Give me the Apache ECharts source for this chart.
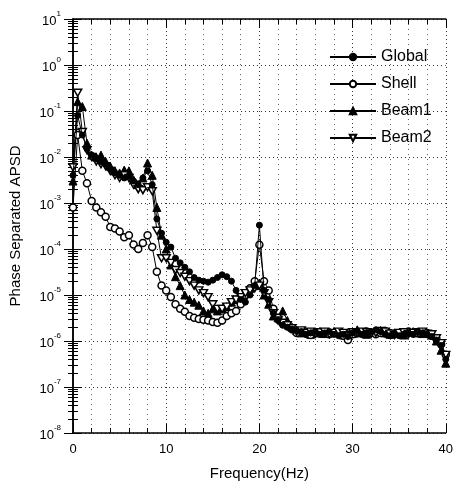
<!DOCTYPE html>
<html>
<head>
<meta charset="utf-8">
<script src="https://cdn.jsdelivr.net/npm/echarts@6/dist/echarts.min.js"></script>
<style>
  html, body { margin: 0; padding: 0; background: #fff; }
  #chart { width: 456px; height: 487px; }
</style>
</head>
<body>
<div id="chart"></div>
<script>
// frequency grid (Hz)
var freq = [0,0.5,1,1.5,2,2.5,3,3.5,4,4.5,5,5.5,6,6.5,7,7.5,8,8.5,9,9.5,
  10,10.5,11,11.5,12,12.5,13,13.5,14,14.5,15,15.5,16,16.5,17,17.5,18,18.5,19,19.5,
  20,20.5,21,21.5,22,22.5,23,23.5,24,24.5,25,25.5,26,26.5,27,27.5,28,28.5,29,29.5,
  30,30.5,31,31.5,32,32.5,33,33.5,34,34.5,35,35.5,36,36.5,37,37.5,38,38.5,39,39.5,40];

var globalApsd = [4e-3,8e-2,3e-2,1.5e-2,1.1e-2,9e-3,8e-3,7e-3,5.5e-3,4.5e-3,4e-3,3.5e-3,3.8e-3,3e-3,2.5e-3,3.5e-3,5e-3,2.5e-3,4.5e-4,2.2e-4,
  1.4e-4,1.1e-4,6.3e-5,5e-5,4e-5,3.2e-5,2.4e-5,2.1e-5,2e-5,1.9e-5,2.1e-5,2.4e-5,2.75e-5,2.5e-5,2e-5,1.26e-5,8e-6,7e-6,1e-5,1.6e-5,
  3.3e-4,1.26e-5,8e-6,4e-6,2.8e-6,2.2e-6,2e-6,1.8e-6,1.65e-6,1.6e-6,1.4e-6,1.5e-6,1.6e-6,1.4e-6,1.5e-6,1.6e-6,1.4e-6,1.3e-6,1.4e-6,1.25e-6,
  1.5e-6,1.65e-6,1.4e-6,1.5e-6,1.6e-6,1.75e-6,1.6e-6,1.4e-6,1.3e-6,1.4e-6,1.3e-6,1.4e-6,1.5e-6,1.4e-6,1.6e-6,1.5e-6,1.4e-6,1.25e-6,1.05e-6,8e-7,4e-7];

var shellApsd = [8e-4,3e-2,5e-3,2.7e-3,1.1e-3,8e-4,6.3e-4,5e-4,3e-4,2.8e-4,2.4e-4,1.8e-4,2e-4,1.26e-4,1e-4,1.35e-4,2e-4,1.1e-4,3.2e-5,1.6e-5,
  1.26e-5,9e-6,6.3e-6,5e-6,4.3e-6,3.5e-6,3.2e-6,3e-6,2.9e-6,2.8e-6,2.6e-6,2.5e-6,2.8e-6,3.5e-6,4e-6,4.5e-6,6.3e-6,1e-5,1.4e-5,2e-5,
  1.23e-4,2e-5,1.26e-5,5e-6,3.2e-6,2.4e-6,2.1e-6,1.8e-6,1.5e-6,1.6e-6,1.45e-6,1.35e-6,1.5e-6,1.45e-6,1.55e-6,1.4e-6,1.5e-6,1.45e-6,1.3e-6,1.05e-6,
  1.4e-6,1.5e-6,1.45e-6,1.6e-6,1.5e-6,1.4e-6,1.5e-6,1.65e-6,1.5e-6,1.4e-6,1.45e-6,1.5e-6,1.6e-6,1.45e-6,1.5e-6,1.55e-6,1.5e-6,1.3e-6,1.1e-6,8.5e-7,5e-7];

var beam1Apsd = [3e-3,1.6e-1,1.25e-1,2e-2,1.1e-2,1e-2,1.1e-2,8e-3,6.3e-3,5e-3,4.5e-3,5.2e-3,5e-3,3.2e-3,2.5e-3,3.5e-3,7.4e-3,4e-3,8e-4,2e-4,
  1e-4,4.5e-5,2.5e-5,1.6e-5,1e-5,8e-6,7e-6,6e-6,4.5e-6,4e-6,5e-6,4.5e-6,5e-6,5.6e-6,7e-6,8e-6,9e-6,1.1e-5,1.4e-5,1.6e-5,
  1.8e-5,1e-5,6.3e-6,3.5e-6,3.2e-6,4.5e-6,2.8e-6,2e-6,1.7e-6,1.5e-6,1.55e-6,1.4e-6,1.5e-6,1.6e-6,1.45e-6,1.5e-6,1.6e-6,1.5e-6,1.35e-6,1.4e-6,
  1.45e-6,1.75e-6,1.5e-6,1.4e-6,1.55e-6,1.6e-6,1.7e-6,1.5e-6,1.4e-6,1.5e-6,1.45e-6,1.35e-6,1.55e-6,1.6e-6,1.5e-6,1.45e-6,1.5e-6,1.35e-6,1e-6,6.3e-7,3.3e-7];

var beam2Apsd = [6e-3,2.5e-1,3.5e-2,1.4e-2,1e-2,8e-3,7e-3,6.3e-3,5e-3,4e-3,3.5e-3,4e-3,3.5e-3,2.5e-3,2e-3,1.9e-3,2.2e-3,1.8e-3,2.5e-4,6.3e-5,
  6.3e-5,5e-5,3.5e-5,3e-5,2.5e-5,2e-5,1.6e-5,1.26e-5,1.1e-5,9e-6,6.3e-6,5e-6,5e-6,5.6e-6,7e-6,8e-6,9e-6,1.1e-5,1.26e-5,1.4e-5,
  1.6e-5,1.1e-5,7e-6,4e-6,2.8e-6,2.5e-6,2.2e-6,1.9e-6,1.6e-6,1.7e-6,1.5e-6,1.6e-6,1.45e-6,1.55e-6,1.6e-6,1.4e-6,1.5e-6,1.6e-6,1.5e-6,1.3e-6,
  1.55e-6,1.5e-6,1.6e-6,1.55e-6,1.45e-6,1.5e-6,1.65e-6,1.6e-6,1.45e-6,1.35e-6,1.5e-6,1.55e-6,1.4e-6,1.5e-6,1.55e-6,1.6e-6,1.45e-6,1.4e-6,1.15e-6,9e-7,5e-7];

var xTicks = [0, 10, 20, 30, 40];

function pairs(ys) {
  return freq.map(function (f, i) { return [f, ys[i]]; });
}

var chart = echarts.init(document.getElementById('chart'));
var font = 'Arial, "Liberation Sans", sans-serif';
var dotted = { color: '#333', type: [1, 3], width: 1 };

var option = {
  animation: false,
  backgroundColor: '#fff',
  grid: { left: 73, right: 9, top: 19, bottom: 54 },
  legend: {
    orient: 'vertical',
    left: 324,
    top: 44,
    itemWidth: 46,
    itemHeight: 8,
    itemGap: 11,
    textStyle: { fontFamily: font, fontSize: 16, color: '#000' },
    data: ['Global', 'Shell', 'Beam1', 'Beam2']
  },
  xAxis: [{
    type: 'value',
    min: 0,
    max: 40,
    interval: 10,
    name: 'Frequency(Hz)',
    nameLocation: 'middle',
    nameGap: 33,
    nameTextStyle: { fontFamily: font, fontSize: 15, color: '#000' },
    axisLine: { lineStyle: { color: '#000', width: 1.5 } },
    axisTick: { inside: true, length: 9, lineStyle: { color: '#000' } },
    minorTick: { show: true, splitNumber: 5, length: 5, lineStyle: { color: '#000' } },
    axisLabel: { fontFamily: font, fontSize: 13, color: '#000', margin: 10,
      formatter: function (v) { return xTicks.indexOf(v) >= 0 ? String(v) : ''; } },
    splitLine: { show: true, lineStyle: dotted },
    minorSplitLine: { show: true, lineStyle: { color: '#666', type: [1, 4], width: 1 } }
  }, {
    type: 'value',
    position: 'top',
    min: 0,
    max: 40,
    interval: 10,
    axisLine: { lineStyle: { color: '#000', width: 1.5 } },
    axisTick: { inside: true, length: 9, lineStyle: { color: '#000' } },
    minorTick: { show: true, splitNumber: 5, length: 5, lineStyle: { color: '#000' } },
    axisLabel: { show: false },
    splitLine: { show: false }
  }],
  yAxis: [{
    type: 'log',
    logBase: 10,
    min: 1e-8,
    max: 10,
    splitNumber: 10,
    name: 'Phase Separated APSD',
    nameLocation: 'middle',
    nameGap: 50,
    nameTextStyle: { fontFamily: font, fontSize: 15, color: '#000' },
    axisLine: { lineStyle: { color: '#000', width: 1.5 } },
    axisTick: { inside: true, length: 9, lineStyle: { color: '#000' } },
    minorTick: { show: true, splitNumber: 9, length: 5, lineStyle: { color: '#000' } },
    axisLabel: {
      fontFamily: font, color: '#000', margin: 12,
      formatter: function (v) {
        var e = Math.round(Math.log10(v));
        return '{b|10}{s|' + e + '}';
      },
      rich: {
        b: { fontFamily: font, fontSize: 13, color: '#000', lineHeight: 18, verticalAlign: 'bottom' },
        s: { fontFamily: font, fontSize: 8, color: '#000', lineHeight: 18, verticalAlign: 'top' }
      }
    },
    splitLine: { show: true, lineStyle: dotted }
  }, {
    type: 'log',
    logBase: 10,
    position: 'right',
    min: 1e-8,
    max: 10,
    splitNumber: 10,
    axisLine: { lineStyle: { color: '#000', width: 1.5 } },
    axisTick: { inside: true, length: 9, lineStyle: { color: '#000' } },
    minorTick: { show: true, splitNumber: 9, length: 5, lineStyle: { color: '#000' } },
    axisLabel: { show: false },
    splitLine: { show: false }
  }],
  series: [{
    name: 'Global',
    type: 'line',
    data: pairs(globalApsd),
    symbol: 'circle',
    symbolSize: 6,
    lineStyle: { color: '#000', width: 1 },
    itemStyle: { color: '#000', borderColor: '#000', borderWidth: 1 },
    z: 4
  }, {
    name: 'Shell',
    type: 'line',
    data: pairs(shellApsd),
    symbol: 'circle',
    symbolSize: 7,
    lineStyle: { color: '#000', width: 1 },
    itemStyle: { color: '#fff', borderColor: '#000', borderWidth: 1.5 },
    z: 3
  }, {
    name: 'Beam1',
    type: 'line',
    data: pairs(beam1Apsd),
    symbol: 'triangle',
    symbolSize: 8,
    lineStyle: { color: '#000', width: 1 },
    itemStyle: { color: '#000', borderColor: '#000', borderWidth: 1 },
    z: 2
  }, {
    name: 'Beam2',
    type: 'line',
    data: pairs(beam2Apsd),
    symbol: 'path://M0,0 L10,0 L5,9 Z',
    symbolSize: [8, 7],
    lineStyle: { color: '#000', width: 1 },
    itemStyle: { color: '#fff', borderColor: '#000', borderWidth: 1.5 },
    z: 3
  }]
};

option && chart.setOption(option);
</script>
</body>
</html>
